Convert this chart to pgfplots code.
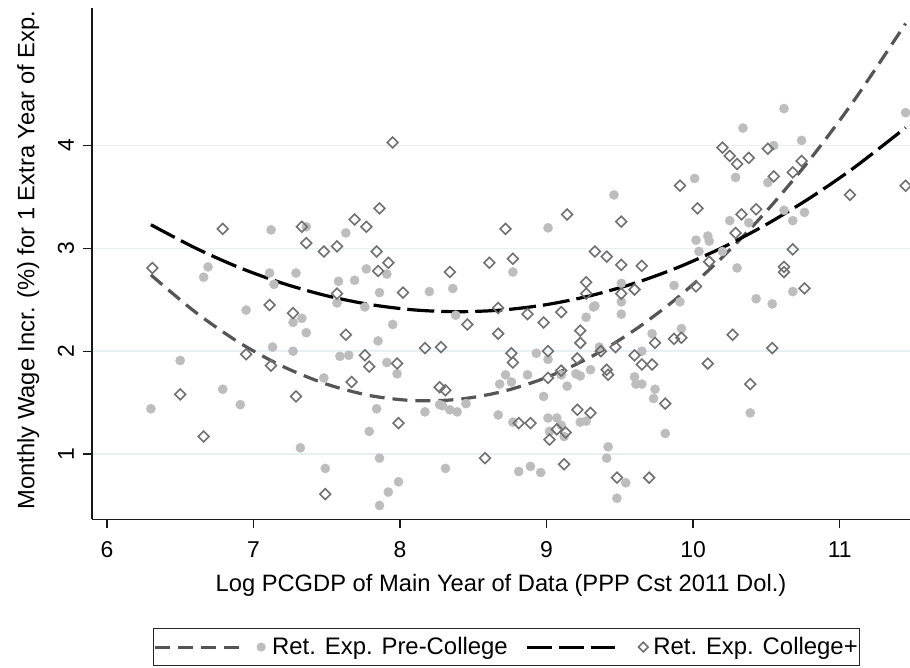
\documentclass[border=0pt]{standalone}
\usepackage{pgfplots}
\pgfplotsset{compat=1.18}
\usepackage{fontspec}
\setmainfont{Liberation Sans}
\definecolor{dotgray}{HTML}{BDBDBD}
\definecolor{diagray}{HTML}{707070}
\definecolor{fitgray}{HTML}{555555}
\definecolor{gridc}{HTML}{E6EFF2}
\begin{document}
\begin{tikzpicture}
\begin{axis}[
  scale only axis, width=818bp, height=511.3bp,
  xmin=5.898, xmax=11.48, ymin=0.365, ymax=5.338,
  axis x line*=bottom, axis y line*=left,
  axis line style={line width=1.3bp, black!90, -},
  xtick={6,7,8,9,10,11}, ytick={1,2,3,4},
  tick align=outside, major tick length=9bp,
  tick style={line width=1.3bp, black!90},
  ymajorgrids, grid style={gridc, line width=1.5bp},
  /pgf/number format/assume math mode=true,
  ticklabel style={font=\fontsize{23}{27}\selectfont},
  xticklabel style={anchor=center, yshift=-21bp},
  yticklabel style={xshift=-17bp, rotate=90, anchor=center},
  xlabel={Log PCGDP of Main Year of Data (PPP Cst 2011 Dol.)},
  ylabel={Monthly Wage Incr. (\%) for 1 Extra Year of Exp.},
  label style={font=\fontsize{23.8}{28}\selectfont},
  xlabel style={at={(axis description cs:0.5,-0.129)}, anchor=center},
  ylabel style={at={(axis description cs:-0.078,0.507)}, anchor=center, rotate=0},
  clip=false,
  legend columns=2,
  legend style={at={(axis description cs:0.0746,-0.2126)}, anchor=north west,
    draw=black!85, line width=1.3bp, inner xsep=0bp, inner ysep=4bp,
    font=\fontsize{24}{28}\selectfont,
    nodes={inner xsep=2bp, inner ysep=5bp},
    /tikz/every even column/.append style={column sep=16bp}},
  legend cell align=left,
]
\coordinate (O) at (rel axis cs:0,0);
% Ret. Exp. Pre-College (dots)
\addplot[only marks, mark=*, mark size=4.6bp, color=dotgray, forget plot] table {
x y
6.30 1.44
6.50 1.91
6.66 2.72
6.69 2.82
6.79 1.63
6.91 1.48
6.95 2.40
7.12 3.18
7.11 2.76
7.14 2.65
7.13 2.04
7.27 2.00
7.27 2.28
7.33 2.32
7.36 2.18
7.29 2.76
7.32 1.06
7.36 3.21
7.48 1.74
7.49 0.86
7.57 2.47
7.58 2.68
7.59 1.95
7.63 3.15
7.65 1.96
7.69 2.69
7.76 2.43
7.77 2.80
7.79 1.22
7.84 1.44
7.85 2.10
7.86 2.57
7.86 0.96
7.86 0.50
7.91 2.75
7.91 1.89
7.92 0.63
7.95 2.26
7.98 1.78
7.99 0.73
8.20 2.58
8.36 2.61
8.38 2.35
8.17 1.41
8.27 1.48
8.29 1.47
8.34 1.43
8.39 1.41
8.45 1.49
8.31 0.86
8.67 1.38
8.68 1.68
8.72 1.77
8.76 1.70
8.77 2.77
8.77 1.31
8.81 0.83
8.87 1.77
8.89 0.88
8.93 1.98
8.96 0.82
8.98 1.56
9.01 3.20
9.01 1.92
9.01 1.35
9.02 1.22
9.07 1.35
9.10 1.77
9.10 1.28
9.12 1.17
9.14 1.66
9.20 1.78
9.23 1.76
9.23 1.31
9.27 1.32
9.27 2.33
9.30 1.82
9.32 2.43
9.33 2.44
9.36 2.04
9.41 0.96
9.42 1.07
9.46 3.52
9.48 0.57
9.51 2.36
9.51 2.48
9.51 2.66
9.54 0.72
9.60 1.75
9.61 1.68
9.65 2.00
9.65 1.68
9.72 2.17
9.73 1.54
9.74 1.63
9.81 1.20
9.87 2.64
9.91 2.48
9.92 2.22
10.01 3.68
10.02 3.08
10.04 2.97
10.10 3.12
10.11 3.07
10.20 2.97
10.25 3.27
10.29 3.69
10.30 2.81
10.34 4.17
10.38 3.25
10.39 1.40
10.43 2.51
10.51 3.64
10.54 2.46
10.55 4.00
10.62 4.36
10.62 3.37
10.68 3.27
10.68 2.58
10.74 4.05
10.76 3.35
11.45 4.32
};
% Ret. Exp. College+ (diamonds)
\addplot[only marks, mark=square, mark size=3.8bp,
  mark options={rotate=45, line width=1.6bp, draw=diagray, fill=none}, forget plot] table {
x y
6.31 2.81
6.50 1.58
6.66 1.17
6.79 3.19
6.95 1.97
7.11 2.45
7.12 1.86
7.27 2.37
7.29 1.56
7.33 3.21
7.36 3.05
7.48 2.97
7.49 0.61
7.57 3.02
7.57 2.56
7.63 2.16
7.67 1.70
7.69 3.28
7.76 1.96
7.77 3.21
7.79 1.85
7.84 2.97
7.85 2.78
7.86 3.39
7.92 2.86
7.95 4.03
7.98 1.88
7.99 1.30
8.02 2.57
8.17 2.03
8.28 2.04
8.27 1.65
8.31 1.62
8.34 2.77
8.46 2.26
8.58 0.96
8.61 2.86
8.67 2.42
8.67 2.17
8.72 3.19
8.76 1.98
8.77 2.90
8.77 1.89
8.81 1.30
8.87 2.36
8.89 1.30
8.98 2.28
9.01 2.00
9.01 1.74
9.02 1.14
9.07 1.24
9.10 2.38
9.10 1.81
9.12 0.90
9.13 1.21
9.14 3.33
9.21 1.93
9.21 1.43
9.23 2.20
9.23 2.08
9.27 2.67
9.27 2.56
9.30 1.40
9.33 2.97
9.37 2.00
9.41 2.92
9.41 1.82
9.42 1.77
9.47 2.04
9.48 0.77
9.51 3.26
9.51 2.84
9.51 2.56
9.60 2.60
9.60 1.96
9.65 2.83
9.65 1.87
9.70 0.77
9.72 1.87
9.74 2.08
9.81 1.49
9.87 2.12
9.91 3.61
9.92 2.13
10.02 2.63
10.03 3.39
10.10 1.88
10.11 2.87
10.20 3.98
10.25 3.90
10.27 2.16
10.29 3.15
10.30 3.82
10.33 3.33
10.38 3.88
10.39 1.68
10.43 3.38
10.51 3.97
10.54 2.03
10.55 3.70
10.62 2.82
10.62 2.77
10.68 3.74
10.68 2.99
10.74 3.85
10.76 2.61
11.07 3.52
11.45 3.61
};
% fitted curve, Pre-College
\addplot[fitgray, line width=3.2bp, dash pattern=on 15bp off 8bp, smooth, forget plot] coordinates {
(6.30,2.742) (6.60,2.384) (6.90,2.086) (7.20,1.852) (7.50,1.679) (7.80,1.567)
(8.10,1.519) (8.40,1.532) (8.70,1.608) (9.00,1.745) (9.30,1.943) (9.60,2.205)
(9.90,2.528) (10.20,2.914) (10.50,3.361) (10.80,3.870) (11.10,4.442) (11.45,5.187)
};
% fitted curve, College+
\addplot[black, line width=3.2bp, dash pattern=on 27bp off 7bp, smooth, forget plot] coordinates {
(6.30,3.230) (6.60,3.006) (6.90,2.815) (7.20,2.660) (7.50,2.539) (7.80,2.453)
(8.10,2.401) (8.40,2.384) (8.70,2.401) (9.00,2.453) (9.30,2.540) (9.60,2.661)
(9.90,2.817) (10.20,3.008) (10.50,3.233) (10.80,3.493) (11.10,3.787) (11.45,4.174)
};
\addlegendimage{legend image code/.code={
  \draw[fitgray, solid, line width=3bp, dash pattern=on 15bp off 8bp] (0bp,0bp) -- (84bp,0bp);
  \fill[dotgray, draw=none] (106bp,0bp) circle (4.6bp);
  \path[draw=none, fill=none] (0bp,-1bp) rectangle (115bp,1bp);}}
\addlegendentry{Ret. Exp. Pre-College}
\addlegendimage{legend image code/.code={
  \draw[black, line width=3bp, dash pattern=on 24.6bp off 7.1bp] (0bp,0bp) -- (88bp,0bp);
  \draw[diagray, solid, line width=1.6bp, fill=none, rotate around={45:(116bp,0bp)}] (112.6bp,-3.4bp) rectangle (119.4bp,3.4bp);
  \path[draw=none, fill=none] (0bp,-1bp) rectangle (124bp,1bp);}}
\addlegendentry{Ret. Exp. College+}
\end{axis}
\pgfresetboundingbox
\path[use as bounding box] (O) ++(-92bp,-148.7bp) rectangle ++(910bp,668bp);
\end{tikzpicture}
\end{document}
